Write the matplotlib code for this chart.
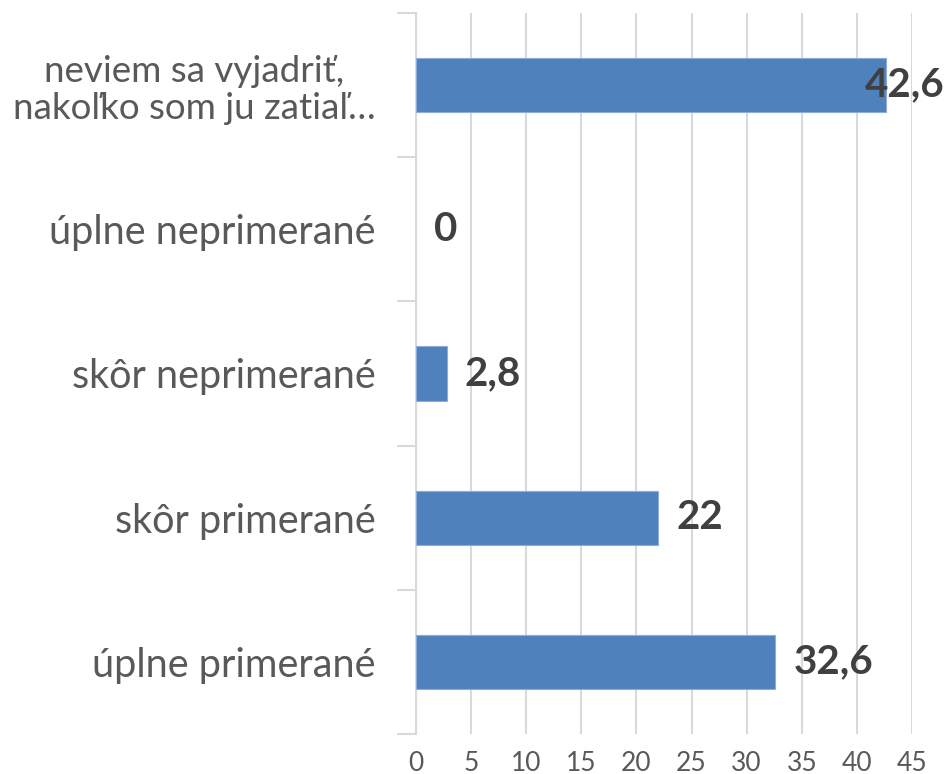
import numpy as np
import matplotlib.pyplot as plt

categories = ["úplne primerané", "skôr primerané", "skôr neprimerané",
              "úplne neprimerané", "neviem sa vyjadriť,\nnakoľko som ju zatiaľ…"]
values = [32.6, 22, 2.8, 0, 42.6]
labels = ["32,6", "22", "2,8", "0", "42,6"]
xticks = [0, 5, 10, 15, 20, 25, 30, 35, 40, 45]

plt.rcParams['font.family'] = ['Lato', 'DejaVu Sans']

fig = plt.figure(figsize=(9.46, 7.74), dpi=100)
ax = fig.add_axes([416 / 946, 1 - 734 / 774, 496 / 946, 721 / 774])

y = np.arange(len(categories))
ax.barh(y, values, height=0.375, color="#4F81BD", edgecolor="#8FAADC",
        linewidth=[0.8 if v > 0 else 0 for v in values], zorder=3)

ax.set_xlim(0, 45)
ax.set_ylim(-0.5, len(categories) - 0.5)
ax.set_xticks(xticks)
ax.set_xticklabels([str(t) for t in xticks], fontsize=19, color="#595959")
ax.tick_params(axis="x", length=0, pad=12)

ax.set_yticks(y)
ax.set_yticklabels(categories, fontsize=28.5, color="#595959", ha="right",
                   multialignment="center", linespacing=1.15)
ax.get_yticklabels()[-1].set_fontsize(26.5)
ax.tick_params(axis="y", which="major", length=0, pad=29)
ax.set_yticks(np.arange(-0.5, len(categories)), minor=True)
ax.tick_params(axis="y", which="minor", length=14, width=1.5, color="#D9D9D9")

for s in ["top", "right", "bottom"]:
    ax.spines[s].set_visible(False)
ax.spines["left"].set_color("#D9D9D9")
ax.spines["left"].set_linewidth(1.5)

ax.grid(axis="x", color="#D9D9D9", linewidth=1.5, zorder=0)
ax.set_axisbelow(True)

for i, (v, lab) in enumerate(zip(values, labels)):
    if v > 40:
        ax.annotate(lab, xy=(0.998, i), xycoords=("figure fraction", "data"),
                    ha="right", va="center", fontsize=29, fontweight="bold", color="#404040", zorder=4)
    else:
        ax.annotate(lab, xy=(v, i), xytext=(13, 0), textcoords="offset points",
                    ha="left", va="center", fontsize=29, fontweight="bold", color="#404040", zorder=4)

fig.savefig("out.png", dpi=100)
